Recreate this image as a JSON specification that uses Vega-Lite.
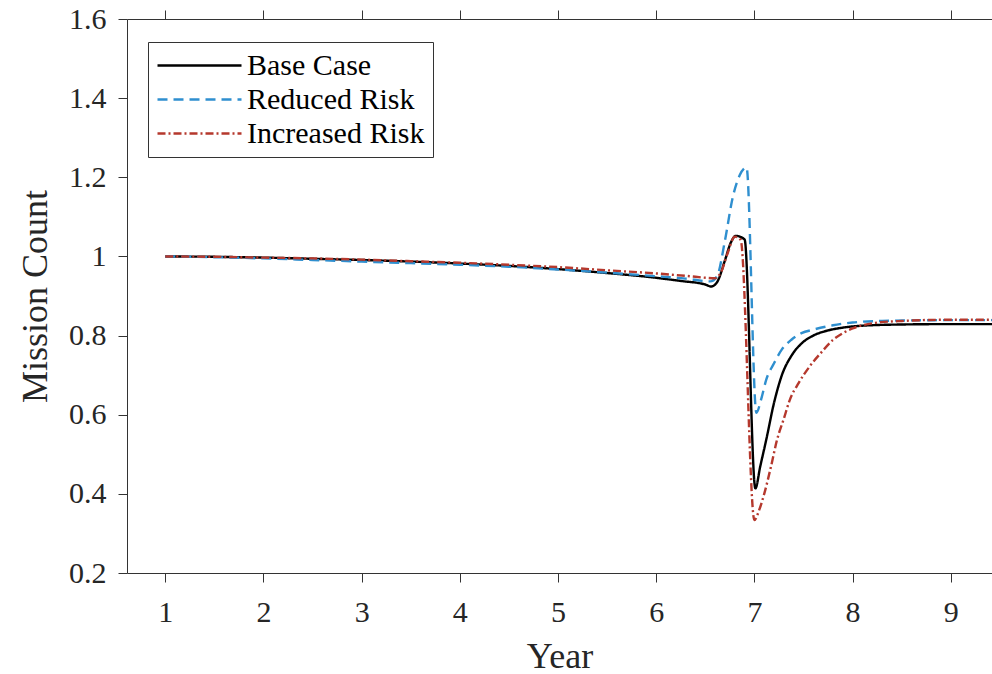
{
  "$schema": "https://vega.github.io/schema/vega-lite/v6.json",
  "autosize": "none",
  "width": 865,
  "height": 554,
  "padding": {"left": 127, "top": 19, "right": 0, "bottom": 101},
  "background": "white",
  "config": {
    "view": {"stroke": null},
    "font": "Liberation Serif",
    "axis": {"domainColor": "#333333", "tickColor": "#333333", "labelColor": "#262626", "titleColor": "#262626", "grid": false, "tickSize": 9, "labelFont": "Liberation Serif", "titleFont": "Liberation Serif", "titleFontWeight": "normal", "labelFontSize": 30, "titleFontSize": 36}
  },
  "data": {"values": [
    {"series": "Base Case", "year": 1.0, "value": 1.000},
    {"series": "Base Case", "year": 1.5, "value": 0.999},
    {"series": "Base Case", "year": 2.0, "value": 0.997},
    {"series": "Base Case", "year": 2.5, "value": 0.994},
    {"series": "Base Case", "year": 3.0, "value": 0.991},
    {"series": "Base Case", "year": 3.5, "value": 0.987},
    {"series": "Base Case", "year": 4.0, "value": 0.982},
    {"series": "Base Case", "year": 4.5, "value": 0.976},
    {"series": "Base Case", "year": 5.0, "value": 0.968},
    {"series": "Base Case", "year": 5.5, "value": 0.958},
    {"series": "Base Case", "year": 6.0, "value": 0.946},
    {"series": "Base Case", "year": 6.25, "value": 0.938},
    {"series": "Base Case", "year": 6.5, "value": 0.929},
    {"series": "Base Case", "year": 6.56, "value": 0.924},
    {"series": "Base Case", "year": 6.62, "value": 0.935},
    {"series": "Base Case", "year": 6.7, "value": 0.99},
    {"series": "Base Case", "year": 6.76, "value": 1.035},
    {"series": "Base Case", "year": 6.81, "value": 1.052},
    {"series": "Base Case", "year": 6.9, "value": 1.043},
    {"series": "Base Case", "year": 7.01, "value": 0.414},
    {"series": "Base Case", "year": 7.06, "value": 0.47},
    {"series": "Base Case", "year": 7.12, "value": 0.536},
    {"series": "Base Case", "year": 7.2, "value": 0.63},
    {"series": "Base Case", "year": 7.28, "value": 0.70},
    {"series": "Base Case", "year": 7.38, "value": 0.75},
    {"series": "Base Case", "year": 7.48, "value": 0.78},
    {"series": "Base Case", "year": 7.6, "value": 0.80},
    {"series": "Base Case", "year": 7.75, "value": 0.813},
    {"series": "Base Case", "year": 7.9, "value": 0.82},
    {"series": "Base Case", "year": 8.1, "value": 0.825},
    {"series": "Base Case", "year": 8.5, "value": 0.828},
    {"series": "Base Case", "year": 9.0, "value": 0.829},
    {"series": "Base Case", "year": 9.5, "value": 0.829},
    {"series": "Reduced Risk", "year": 1.0, "value": 1.000},
    {"series": "Reduced Risk", "year": 1.5, "value": 0.998},
    {"series": "Reduced Risk", "year": 2.0, "value": 0.995},
    {"series": "Reduced Risk", "year": 2.5, "value": 0.991},
    {"series": "Reduced Risk", "year": 3.0, "value": 0.987},
    {"series": "Reduced Risk", "year": 3.5, "value": 0.983},
    {"series": "Reduced Risk", "year": 4.0, "value": 0.979},
    {"series": "Reduced Risk", "year": 4.5, "value": 0.974},
    {"series": "Reduced Risk", "year": 5.0, "value": 0.967},
    {"series": "Reduced Risk", "year": 5.5, "value": 0.959},
    {"series": "Reduced Risk", "year": 6.0, "value": 0.950},
    {"series": "Reduced Risk", "year": 6.3, "value": 0.944},
    {"series": "Reduced Risk", "year": 6.55, "value": 0.937},
    {"series": "Reduced Risk", "year": 6.62, "value": 0.95},
    {"series": "Reduced Risk", "year": 6.7, "value": 1.04},
    {"series": "Reduced Risk", "year": 6.78, "value": 1.15},
    {"series": "Reduced Risk", "year": 6.85, "value": 1.205},
    {"series": "Reduced Risk", "year": 6.92, "value": 1.225},
    {"series": "Reduced Risk", "year": 7.02, "value": 0.605},
    {"series": "Reduced Risk", "year": 7.07, "value": 0.64},
    {"series": "Reduced Risk", "year": 7.12, "value": 0.688},
    {"series": "Reduced Risk", "year": 7.2, "value": 0.73},
    {"series": "Reduced Risk", "year": 7.28, "value": 0.765},
    {"series": "Reduced Risk", "year": 7.38, "value": 0.79},
    {"series": "Reduced Risk", "year": 7.48, "value": 0.806},
    {"series": "Reduced Risk", "year": 7.6, "value": 0.815},
    {"series": "Reduced Risk", "year": 7.8, "value": 0.826},
    {"series": "Reduced Risk", "year": 8.0, "value": 0.833},
    {"series": "Reduced Risk", "year": 8.3, "value": 0.837},
    {"series": "Reduced Risk", "year": 9.0, "value": 0.839},
    {"series": "Reduced Risk", "year": 9.5, "value": 0.839},
    {"series": "Increased Risk", "year": 1.0, "value": 1.000},
    {"series": "Increased Risk", "year": 1.5, "value": 0.999},
    {"series": "Increased Risk", "year": 2.0, "value": 0.997},
    {"series": "Increased Risk", "year": 2.5, "value": 0.995},
    {"series": "Increased Risk", "year": 3.0, "value": 0.992},
    {"series": "Increased Risk", "year": 3.5, "value": 0.988},
    {"series": "Increased Risk", "year": 4.0, "value": 0.984},
    {"series": "Increased Risk", "year": 4.5, "value": 0.979},
    {"series": "Increased Risk", "year": 5.0, "value": 0.973},
    {"series": "Increased Risk", "year": 5.5, "value": 0.965},
    {"series": "Increased Risk", "year": 6.0, "value": 0.957},
    {"series": "Increased Risk", "year": 6.3, "value": 0.951},
    {"series": "Increased Risk", "year": 6.6, "value": 0.945},
    {"series": "Increased Risk", "year": 6.66, "value": 0.96},
    {"series": "Increased Risk", "year": 6.73, "value": 1.01},
    {"series": "Increased Risk", "year": 6.8, "value": 1.05},
    {"series": "Increased Risk", "year": 6.86, "value": 1.042},
    {"series": "Increased Risk", "year": 7.0, "value": 0.334},
    {"series": "Increased Risk", "year": 7.05, "value": 0.36},
    {"series": "Increased Risk", "year": 7.1, "value": 0.40},
    {"series": "Increased Risk", "year": 7.17, "value": 0.47},
    {"series": "Increased Risk", "year": 7.23, "value": 0.536},
    {"series": "Increased Risk", "year": 7.3, "value": 0.59},
    {"series": "Increased Risk", "year": 7.36, "value": 0.637},
    {"series": "Increased Risk", "year": 7.45, "value": 0.68},
    {"series": "Increased Risk", "year": 7.56, "value": 0.721},
    {"series": "Increased Risk", "year": 7.68, "value": 0.757},
    {"series": "Increased Risk", "year": 7.8, "value": 0.789},
    {"series": "Increased Risk", "year": 7.9, "value": 0.806},
    {"series": "Increased Risk", "year": 8.0, "value": 0.818},
    {"series": "Increased Risk", "year": 8.2, "value": 0.831},
    {"series": "Increased Risk", "year": 8.5, "value": 0.837},
    {"series": "Increased Risk", "year": 9.0, "value": 0.840},
    {"series": "Increased Risk", "year": 9.5, "value": 0.840}
  ]},
  "layer": [
    {
      "mark": {"type": "line", "strokeWidth": 2.4, "clip": true, "interpolate": "monotone"},
      "encoding": {
        "x": {"field": "year", "type": "quantitative", "scale": {"domain": [0.61, 9.42], "nice": false, "zero": false},
              "axis": {"orient": "bottom", "values": [1,2,3,4,5,6,7,8,9], "title": "Year", "labelPadding": 15, "titlePadding": 12, "labelFlush": false}},
        "y": {"field": "value", "type": "quantitative", "scale": {"domain": [0.2, 1.6], "nice": false, "zero": false},
              "axis": {"values": [0.2,0.4,0.6,0.8,1,1.2,1.4,1.6], "format": "~g", "title": "Mission Count", "labelPadding": 12, "titlePadding": 14, "labelFlush": false}},
        "color": {"field": "series", "type": "nominal",
                  "scale": {"domain": ["Base Case", "Reduced Risk", "Increased Risk"], "range": ["#000000", "#2f8fcf", "#b5382d"]},
                  "legend": {"title": null, "orient": "none", "legendX": 21, "legendY": 23, "symbolType": "M-1,0H5", "symbolSize": 784, "symbolStrokeWidth": 2.4, "labelFont": "Liberation Serif", "labelFontSize": 30, "labelColor": "#000000", "labelOffset": 60, "labelLimit": 400, "strokeColor": "#333333", "fillColor": "white", "padding": 8, "rowPadding": 3}},
        "strokeDash": {"field": "series", "type": "nominal",
                  "scale": {"domain": ["Base Case", "Reduced Risk", "Increased Risk"], "range": [[1, 0], [10, 6], [8, 3, 2, 3]]},
                  "legend": null}
      }
    },
    {
      "mark": {"type": "line", "opacity": 0},
      "encoding": {
        "x": {"field": "year", "type": "quantitative", "axis": {"orient": "top", "values": [1,2,3,4,5,6,7,8,9], "labels": false, "title": null}},
        "y": {"field": "value", "type": "quantitative", "axis": null}
      }
    }
  ],
  "resolve": {"axis": {"x": "independent", "y": "independent"}}
}
